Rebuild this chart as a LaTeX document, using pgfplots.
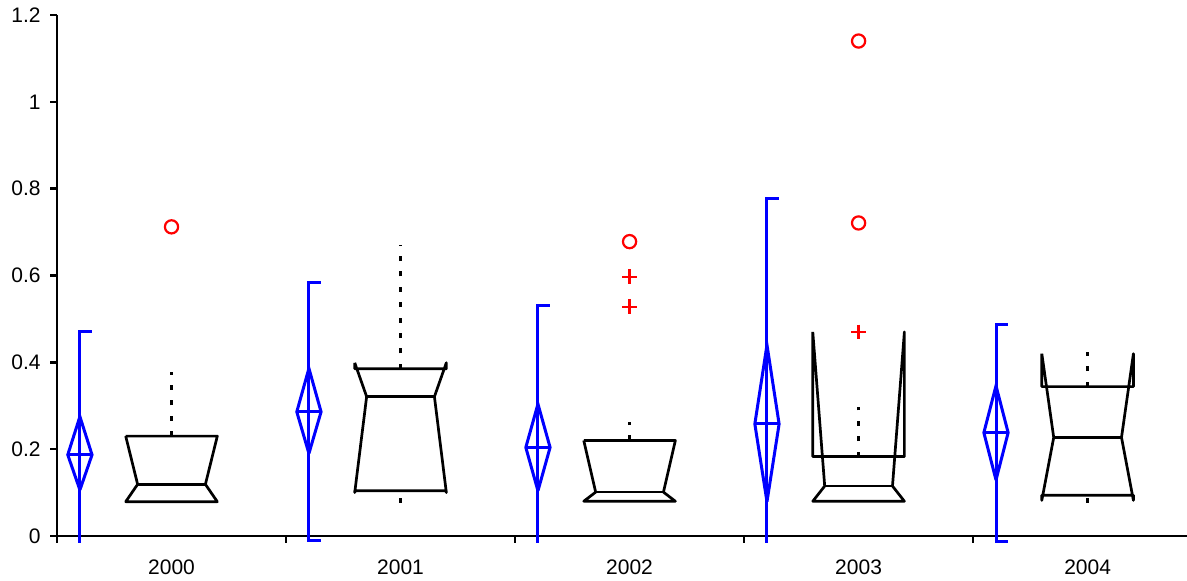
\documentclass[border=0pt]{standalone}
\usepackage{fontspec}
\setmainfont{Liberation Sans}
\usepackage{pgfplots}
\pgfplotsset{compat=1.18}

\definecolor{meanblue}{RGB}{0,0,255}
\definecolor{outred}{RGB}{255,0,0}

\pgfplotsset{
  boxline/.style={black, line width=1.35pt, mark=none, line join=round},
  whisk/.style={black, line width=1.5pt, mark=none, dash pattern=on 2.5pt off 5.2pt},
  meanline/.style={meanblue, line width=1.5pt, mark=none, line join=miter},
  outcirc/.style={only marks, mark=o, mark size=3.3pt, outred, mark options={line width=1.1pt}},
  outplus/.style={only marks, mark=+, mark size=3.7pt, outred, mark options={line width=1.1pt}},
}

\begin{document}
\begin{tikzpicture}[font=\fontsize{10.5}{12.5}\selectfont]
\begin{axis}[
  scale only axis,
  width=565pt, height=260.5pt,
  xmin=-0.5, xmax=4.434,
  ymin=0, ymax=1.2,
  clip=false,
  axis x line=bottom, axis y line=left,
  axis line style={-, line width=1.25pt},
  ytick={0,0.2,0.4,0.6,0.8,1,1.2},
  /pgf/number format/assume math mode=true,
  tick align=outside,
  major tick length=3.5pt,
  minor tick length=3.5pt,
  ytick style={line width=1.25pt, black},
  xtick={0,1,2,3,4},
  xticklabels={2000,2001,2002,2003,2004},
  major x tick style={draw=none},
  minor xtick={-0.5,0.5,1.5,2.5,3.5},
  minor x tick style={line width=1.25pt, black},
  xticklabel style={yshift=-4.8pt},
  yticklabel style={xshift=-1.2pt},
]

% ---- 2000 ----
\addplot[meanline] coordinates {(-0.348,0.47) (-0.4,0.47) (-0.4,-0.016)};
\addplot[meanline] coordinates {(-0.4,0.106) (-0.347,0.187) (-0.4,0.275) (-0.453,0.187) (-0.4,0.106)};
\addplot[meanline] coordinates {(-0.453,0.187) (-0.347,0.187)};
\addplot[whisk] coordinates {(0,0.23) (0,0.378)};
\addplot[boxline] coordinates {(-0.2,0.23) (-0.148,0.119) (-0.2,0.079) (0.2,0.079) (0.148,0.119) (0.2,0.23) (-0.2,0.23)};
\addplot[boxline] coordinates {(-0.148,0.119) (0.148,0.119)};
\addplot[outcirc] coordinates {(0,0.712)};

% ---- 2001 ----
\addplot[meanline] coordinates {(0.652,0.584) (0.6,0.584) (0.6,-0.01) (0.652,-0.01)};
\addplot[meanline] coordinates {(0.6,0.19) (0.653,0.286) (0.6,0.386) (0.547,0.286) (0.6,0.19)};
\addplot[meanline] coordinates {(0.547,0.286) (0.653,0.286)};
\addplot[whisk] coordinates {(1,0.385) (1,0.67)};
\addplot[whisk] coordinates {(1,0.077) (1,0.104)};
\addplot[boxline] coordinates {(0.8,0.399) (0.852,0.321) (0.8,0.100) (0.8,0.104) (1.2,0.104) (1.2,0.100) (1.148,0.321) (1.2,0.399) (1.2,0.385) (0.8,0.385) (0.8,0.399)};
\addplot[boxline] coordinates {(0.852,0.321) (1.148,0.321)};

% ---- 2002 ----
\addplot[meanline] coordinates {(1.652,0.532) (1.6,0.532) (1.6,-0.016)};
\addplot[meanline] coordinates {(1.6,0.104) (1.653,0.204) (1.6,0.304) (1.547,0.204) (1.6,0.104)};
\addplot[meanline] coordinates {(1.547,0.204) (1.653,0.204)};
\addplot[whisk] coordinates {(2,0.22) (2,0.262)};
\addplot[boxline] coordinates {(1.8,0.22) (1.852,0.101) (1.8,0.08) (2.2,0.08) (2.148,0.101) (2.2,0.22) (1.8,0.22)};
\addplot[boxline] coordinates {(1.852,0.101) (2.148,0.101)};
\addplot[outplus] coordinates {(2,0.528) (2,0.597)};
\addplot[outcirc] coordinates {(2,0.678)};

% ---- 2003 ----
\addplot[meanline] coordinates {(2.652,0.778) (2.6,0.778) (2.6,-0.016)};
\addplot[meanline] coordinates {(2.6,0.079) (2.653,0.258) (2.6,0.44) (2.547,0.258) (2.6,0.079)};
\addplot[meanline] coordinates {(2.547,0.258) (2.653,0.258)};
\addplot[whisk] coordinates {(3,0.183) (3,0.296)};
\addplot[boxline] coordinates {(2.8,0.47) (2.852,0.115) (2.8,0.08) (3.2,0.08) (3.148,0.115) (3.2,0.47) (3.2,0.183) (2.8,0.183) (2.8,0.47)};
\addplot[boxline] coordinates {(2.852,0.115) (3.148,0.115)};
\addplot[outplus] coordinates {(3,0.47)};
\addplot[outcirc] coordinates {(3,0.721) (3,1.14)};

% ---- 2004 ----
\addplot[meanline] coordinates {(3.652,0.488) (3.6,0.488) (3.6,-0.013) (3.652,-0.013)};
\addplot[meanline] coordinates {(3.6,0.129) (3.653,0.238) (3.6,0.346) (3.547,0.238) (3.6,0.129)};
\addplot[meanline] coordinates {(3.547,0.238) (3.653,0.238)};
\addplot[whisk] coordinates {(4,0.344) (4,0.424)};
\addplot[whisk] coordinates {(4,0.077) (4,0.094)};
\addplot[boxline] coordinates {(3.8,0.42) (3.852,0.227) (3.8,0.082) (3.8,0.094) (4.2,0.094) (4.2,0.082) (4.148,0.227) (4.2,0.42) (4.2,0.344) (3.8,0.344) (3.8,0.42)};
\addplot[boxline] coordinates {(3.852,0.227) (4.148,0.227)};

\end{axis}
\pgfresetboundingbox
\path[use as bounding box] ([shift={(-28.5pt,-22.5pt)}]current axis.south west) rectangle ([shift={(0pt,7.5pt)}]current axis.north east);
\end{tikzpicture}
\end{document}
